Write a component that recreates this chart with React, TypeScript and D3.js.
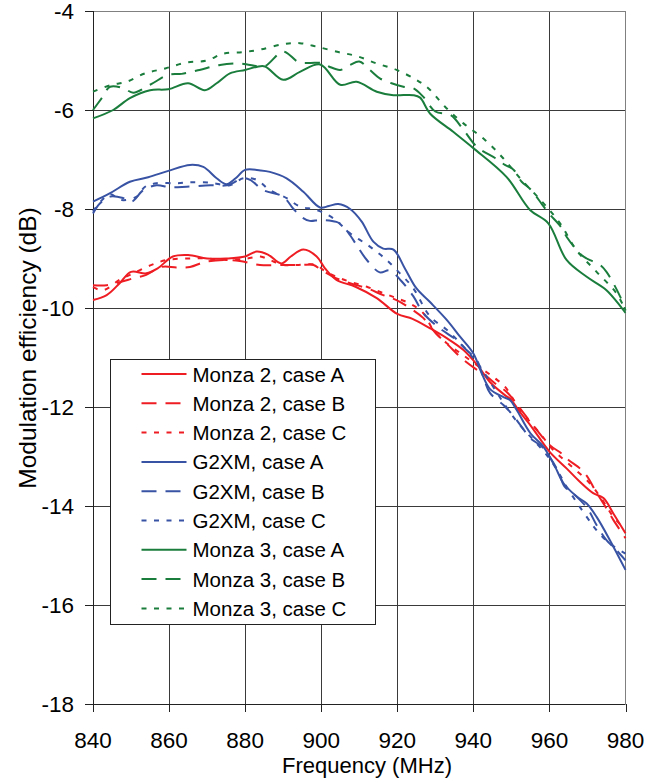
import React from "react";
import * as d3 from "d3";

// frequency (MHz), modulation efficiency (dB)
const monza2A: [number, number][] = [
  [840, -9.84], [843.6, -9.74], [847, -9.5], [850, -9.27], [854, -9.3], [857, -9.2], [861, -8.96],
  [865, -8.93], [870, -9.0], [875, -9.0], [880, -8.96], [883, -8.86], [886, -8.92], [889.5, -9.1],
  [892, -8.96], [895.3, -8.82], [898.8, -8.96], [901, -9.2], [904, -9.43], [909, -9.57], [914.6, -9.8],
  [920, -10.12], [924, -10.22], [928.6, -10.41], [933, -10.61], [937.4, -10.85], [941, -11.15],
  [944.4, -11.5], [948.3, -11.76], [950, -11.86], [952, -12.08], [955.3, -12.4], [960, -12.9],
  [964.5, -13.24], [968, -13.51], [971.5, -13.74], [974.2, -13.84], [976.8, -14.15], [980, -14.55],
];
const monza2B: [number, number][] = [
  [840, -9.54], [843.6, -9.54], [847, -9.48], [850.6, -9.4], [854, -9.33], [858, -9.17], [862, -9.18],
  [865.5, -9.17], [869.4, -9.07], [874.3, -9.03], [878.6, -9.05], [883.9, -9.13], [890, -9.13],
  [895, -9.13], [898, -9.13], [900, -9.23], [904, -9.4], [907.6, -9.5], [912, -9.6], [916.3, -9.74],
  [919.8, -9.84], [923.3, -10.0], [926.8, -10.2], [930, -10.5], [933.4, -10.75], [937, -11.02],
  [940.4, -11.22], [943, -11.35], [946.1, -11.55], [948.7, -11.69], [952, -12.0], [956, -12.4],
  [960.1, -12.77], [963.2, -12.94], [965, -13.07], [968, -13.24], [970, -13.41], [972, -13.68],
  [974.2, -13.95], [976.8, -14.28], [980, -14.65],
];
const monza2C: [number, number][] = [
  [840, -9.58], [842.7, -9.64], [847, -9.43], [850.6, -9.3], [855.4, -9.13], [859.4, -9.03],
  [864.6, -9.0], [870, -9.0], [875, -9.03], [880.4, -9.0], [884, -8.96], [886.5, -9.03], [890, -9.13],
  [894, -9.13], [898.8, -9.13], [900.5, -9.23], [904, -9.37], [907.6, -9.47], [912, -9.57],
  [916.3, -9.7], [919.8, -9.8], [923.3, -9.91], [926.8, -10.1], [929.5, -10.45], [933, -10.71],
  [937.8, -10.98], [942.6, -11.25], [945.7, -11.42], [948.3, -11.59], [952.3, -12.06], [957.5, -12.53],
  [961, -12.87], [965.4, -13.17], [970.6, -13.54], [974.2, -13.91], [976.8, -14.22], [980, -14.48],
];
const g2xmA: [number, number][] = [
  [840, -7.85], [844.5, -7.68], [849.7, -7.45], [854.5, -7.36], [859.8, -7.23], [865.5, -7.11],
  [869, -7.15], [872.5, -7.38], [875.1, -7.5], [877.5, -7.38], [880, -7.21], [884, -7.22],
  [886.5, -7.25], [890.9, -7.38], [895.3, -7.65], [899.7, -7.97], [902, -7.94], [904.5, -7.9],
  [907.6, -8.0], [910.6, -8.25], [913.7, -8.66], [916.3, -8.8], [919, -8.82], [922, -9.2], [925, -9.6],
  [928.6, -9.88], [933, -10.24], [936.5, -10.58], [940, -10.92], [942.2, -11.32], [944.4, -11.64],
  [947.9, -11.8], [949.6, -11.86], [951.4, -12.06], [955, -12.53], [958.4, -12.8], [961.5, -13.21],
  [963.7, -13.54], [967.2, -13.81], [969.8, -13.95], [972.4, -14.22], [975.9, -14.69], [980, -15.29],
];
const g2xmB: [number, number][] = [
  [840, -8.09], [841.8, -7.89], [844.5, -7.75], [848, -7.78], [850.2, -7.85], [853.2, -7.62],
  [856.7, -7.52], [860.2, -7.56], [864.6, -7.55], [870.8, -7.52], [875.2, -7.52], [879.5, -7.38],
  [881.3, -7.41], [884.8, -7.62], [890, -7.75], [892.6, -7.99], [894.8, -8.16], [897, -8.24],
  [899.7, -8.22], [904, -8.26], [905.4, -8.32], [907.6, -8.53], [909.3, -8.73], [912, -9.03],
  [915.4, -9.28], [918, -9.24], [921, -9.45], [924.2, -9.76], [926.8, -10.1], [931, -10.4],
  [935.6, -10.65], [938.2, -10.85], [940.9, -11.05], [942.6, -11.39], [944.4, -11.72], [947.9, -11.96],
  [950, -12.13], [952.7, -12.4], [955, -12.63], [958, -12.8], [960, -13.0], [962.3, -13.3], [964, -13.61],
  [966.7, -13.78], [970, -14.05], [972.5, -14.4], [975, -14.69], [977.6, -14.89], [980, -15.1],
];
const g2xmC: [number, number][] = [
  [840, -8.05], [842, -7.85], [844.5, -7.7], [847.5, -7.82], [851.5, -7.75], [853.7, -7.55],
  [856.7, -7.48], [862, -7.48], [865.5, -7.46], [870.8, -7.47], [876, -7.52], [879.5, -7.38],
  [883, -7.41], [886.5, -7.62], [890.9, -7.78], [894.4, -7.95], [898.8, -8.02], [903.2, -8.19],
  [907.6, -8.49], [912.8, -8.76], [917.2, -9.03], [920.7, -9.3], [924.2, -9.6], [928.6, -10.17],
  [933, -10.44], [937.4, -10.78], [941.7, -11.18], [945.2, -11.59], [948.3, -11.96], [951.5, -12.3],
  [955, -12.6], [959.3, -12.97], [962, -13.27], [964.5, -13.61], [969.8, -14.22], [972.4, -14.49],
  [975.9, -14.76], [980, -14.96],
];
const monza3A: [number, number][] = [
  [840, -6.17], [845.3, -6.0], [849.7, -5.76], [855, -5.6], [859.8, -5.58], [865, -5.46], [869.4, -5.6],
  [872.5, -5.46], [876, -5.26], [880, -5.19], [883, -5.13], [885.2, -5.12], [890, -5.39], [894.4, -5.23],
  [899.7, -5.08], [905, -5.49], [909.3, -5.43], [914.6, -5.63], [919, -5.7], [924.2, -5.7], [926, -5.75],
  [928.6, -6.07], [934.7, -6.44], [940, -6.77], [948.7, -7.35], [954.9, -8.02], [959.7, -8.29],
  [964.5, -9.03], [969.8, -9.37], [975, -9.64], [980, -10.1],
];
const monza3B: [number, number][] = [
  [840, -6.0], [842.3, -5.76], [844.5, -5.53], [848, -5.56], [850.6, -5.65], [855, -5.49],
  [859.8, -5.29], [863.3, -5.27], [868, -5.19], [873.4, -5.09], [878.6, -5.06], [881.3, -5.09],
  [885, -5.12], [890, -4.82], [894, -5.03], [897, -5.05], [900, -5.05], [902, -5.12], [905, -5.19],
  [907.6, -5.09], [910, -5.02], [912.8, -5.19], [915.4, -5.36], [918.5, -5.46], [921.6, -5.53],
  [924.2, -5.56], [926.8, -5.73], [930, -6.03], [934, -6.1], [937.4, -6.4], [941, -6.75], [945.7, -6.97],
  [948.3, -7.11], [950.5, -7.2], [952.7, -7.45], [955, -7.6], [958, -7.9], [960, -8.1], [963, -8.36],
  [964.5, -8.56], [968, -8.9], [969.8, -9.0], [973.3, -9.13], [975, -9.27], [978.6, -9.77], [980, -10.05],
];
const monza3C: [number, number][] = [
  [840, -5.63], [844.5, -5.5], [848.8, -5.43], [853.7, -5.26], [859, -5.16], [864.6, -5.04],
  [869.9, -5.0], [874.3, -4.86], [879.5, -4.83], [883.9, -4.78], [890, -4.67], [894.4, -4.65],
  [898.8, -4.72], [904.5, -4.83], [909.3, -4.91], [914.6, -5.06], [919.8, -5.19], [925, -5.39],
  [928.3, -5.57], [932.5, -5.93], [937.4, -6.27], [943, -6.6], [947.9, -6.98], [952.3, -7.38],
  [958.4, -7.88], [962.8, -8.29], [967.1, -8.83], [972.4, -9.27], [977.6, -9.7], [980, -10.05],
];

const xTicks = [840, 860, 880, 900, 920, 940, 960, 980];
const yTicks = [-4, -6, -8, -10, -12, -14, -16, -18];

const RED = "#ee1d23";
const BLUE = "#3953a4";
const GREEN = "#1a7d3c";
const SOLID = "none";
const DASH = "15,9";
const DOT = "5,7.5";

const series = [
  { name: "Monza 2, case A", data: monza2A, color: RED, dash: SOLID },
  { name: "Monza 2, case B", data: monza2B, color: RED, dash: DASH },
  { name: "Monza 2, case C", data: monza2C, color: RED, dash: DOT },
  { name: "G2XM, case A", data: g2xmA, color: BLUE, dash: SOLID },
  { name: "G2XM, case B", data: g2xmB, color: BLUE, dash: DASH },
  { name: "G2XM, case C", data: g2xmC, color: BLUE, dash: DOT },
  { name: "Monza 3, case A", data: monza3A, color: GREEN, dash: SOLID },
  { name: "Monza 3, case B", data: monza3B, color: GREEN, dash: DASH },
  { name: "Monza 3, case C", data: monza3C, color: GREEN, dash: DOT },
];

const FONT = "'Liberation Sans', Arial, sans-serif";

export default function App() {
  const left = 93, right = 625.5, top = 11, bottom = 704;
  const x = d3.scaleLinear().domain([840, 980]).range([left, right]);
  const y = d3.scaleLinear().domain([-4, -18]).range([top, bottom]);

  const line = d3
    .line<[number, number]>()
    .x(d => x(d[0]))
    .y(d => y(d[1]))
    .curve(d3.curveCatmullRom.alpha(0.5));

  // legend
  const lgX = 110, lgY = 359, lgW = 265, lgH = 265;
  const rowY = (i: number) => 374 + i * 29.3;

  return (
    <svg
      width={663}
      height={783}
      style={{ position: "absolute", left: 0, top: 0, background: "#fff" }}
      fontFamily={FONT}
    >
      <rect x={left} y={top} width={right - left} height={bottom - top} fill="#fff" />

      {/* grid */}
      {xTicks.slice(1, -1).map(t => (
        <line key={"gx" + t} x1={Math.round(x(t)) + 0.5} x2={Math.round(x(t)) + 0.5} y1={top} y2={bottom} stroke="#3a3a3a" strokeWidth={1} />
      ))}
      {yTicks.slice(1, -1).map(t => (
        <line key={"gy" + t} x1={left} x2={right} y1={Math.round(y(t)) + 0.5} y2={Math.round(y(t)) + 0.5} stroke="#3a3a3a" strokeWidth={1} />
      ))}
      {/* frame */}
      <line x1={left} x2={right} y1={top + 0.5} y2={top + 0.5} stroke="#808080" />
      <line x1={right} x2={right} y1={top} y2={bottom} stroke="#808080" />
      <line x1={left + 0.5} x2={left + 0.5} y1={top} y2={bottom + 0.5} stroke="#222" />
      <line x1={left} x2={right} y1={bottom + 0.5} y2={bottom + 0.5} stroke="#222" />

      {/* ticks */}
      {yTicks.map(t => (
        <g key={"ty" + t}>
          <line x1={left - 8} x2={left} y1={Math.round(y(t)) + 0.5} y2={Math.round(y(t)) + 0.5} stroke="#222" />
          <text x={74} y={y(t) + 8} textAnchor="end" fontSize={22.5} fill="#000">
            {t}
          </text>
        </g>
      ))}
      {xTicks.map(t => (
        <g key={"tx" + t}>
          <line x1={Math.round(x(t)) + 0.5} x2={Math.round(x(t)) + 0.5} y1={bottom} y2={bottom + 8} stroke="#222" />
          <text x={x(t)} y={748} textAnchor="middle" fontSize={22.5} fill="#000">
            {t}
          </text>
        </g>
      ))}

      {/* series */}
      <g fill="none" strokeWidth={2} strokeLinejoin="round">
        {series.map(s => (
          <path key={s.name} d={line(s.data) || ""} stroke={s.color} strokeDasharray={s.dash} />
        ))}
      </g>

      {/* axis titles */}
      <text x={367} y={773} textAnchor="middle" fontSize={22} fill="#000">
        Frequency (MHz)
      </text>
      <text transform={`translate(36, 348) rotate(-90)`} textAnchor="middle" fontSize={24.5} fill="#000">
        Modulation efficiency (dB)
      </text>

      {/* legend */}
      <rect x={lgX + 0.5} y={lgY + 0.5} width={lgW} height={lgH} fill="#fff" stroke="#222" />
      {series.map((s, i) => (
        <g key={"lg" + s.name}>
          <line x1={141.5} x2={186.5} y1={rowY(i)} y2={rowY(i)} stroke={s.color} strokeWidth={2} strokeDasharray={s.dash} />
          <text x={192.5} y={rowY(i) + 7.5} fontSize={20.5} fill="#000">
            {s.name}
          </text>
        </g>
      ))}
    </svg>
  );
}
